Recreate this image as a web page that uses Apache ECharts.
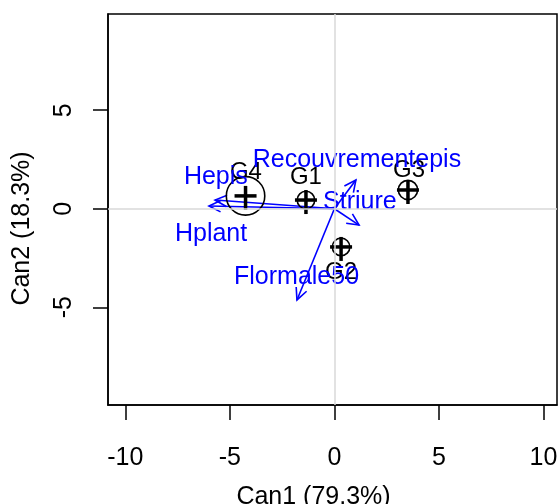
<!DOCTYPE html>
<html><head><meta charset="utf-8">
<script src="https://cdn.jsdelivr.net/npm/echarts@6/dist/echarts.min.js"></script>
<style>html,body{margin:0;padding:0;background:#fff}#c{width:559px;height:504px}</style>
</head><body><div id="c"></div>
<script>
// Group centroids (canonical scores)
const groupNames = ['G1', 'G2', 'G3', 'G4'];
const groupX = [-1.36, 0.32, 3.52, -4.25];
const groupY = [0.44, -1.94, 0.95, 0.65];
const groupRadius = [0.42, 0.42, 0.46, 0.92];
const groupLabelX = [-1.36, 0.32, 3.57, -4.23];
const groupLabelY = [1.58, -3.21, 1.96, 1.86];

// Structure vectors
const varNames = ['Recouvrementepis', 'Striure', 'Flormale50', 'Hepis', 'Hplant'];
const varX = [1.03, 1.18, -1.79, -5.71, -6.0];
const varY = [1.46, -0.83, -4.63, 0.44, 0.14];
const varLabelX = [1.08, 1.22, -1.81, -5.67, -5.9];
const varLabelY = [2.47, 0.34, -3.47, 1.61, -1.28];

const xTicks = [-10, -5, 0, 5, 10];
const yTicks = [-5, 0, 5];
const xName = 'Can1 (79.3%)';
const yName = 'Can2 (18.3%)';

const FONT = '"Liberation Sans", Arial, Helvetica, sans-serif';
const BLUE = '#0000ff';

const chart = echarts.init(document.getElementById('c'), null, {renderer: 'canvas'});

function arrowItem(params, api) {
  const p0 = api.coord([0, 0]);
  const p1 = api.coord([api.value(0), api.value(1)]);
  const a = Math.atan2(p1[1] - p0[1], p1[0] - p0[0]);
  const L = 13, w = Math.PI / 7;
  const h1 = [p1[0] - L * Math.cos(a - w), p1[1] - L * Math.sin(a - w)];
  const h2 = [p1[0] - L * Math.cos(a + w), p1[1] - L * Math.sin(a + w)];
  return {
    type: 'group',
    children: [
      {type: 'line', shape: {x1: p0[0], y1: p0[1], x2: p1[0], y2: p1[1]}, style: {stroke: BLUE, lineWidth: 1.6}},
      {type: 'polyline', shape: {points: [h1, p1, h2]}, style: {stroke: BLUE, lineWidth: 1.6, fill: null}}
    ]
  };
}

function groupItem(params, api) {
  const c = api.coord([api.value(0), api.value(1)]);
  const r = api.size([api.value(2), 0])[0];
  const arm = 11;
  return {
    type: 'group',
    children: [
      {type: 'circle', shape: {cx: c[0], cy: c[1], r: r}, style: {stroke: '#000', lineWidth: 1.6, fill: null}},
      {type: 'line', shape: {x1: c[0] - arm, y1: c[1], x2: c[0] + arm, y2: c[1]}, style: {stroke: '#000', lineWidth: 3.5}},
      {type: 'line', shape: {x1: c[0], y1: c[1] - arm + 1, x2: c[0], y2: c[1] + arm + 3}, style: {stroke: '#000', lineWidth: 3.5}}
    ]
  };
}

function textItemFactory(color, size) {
  return function (params, api) {
    const c = api.coord([api.value(0), api.value(1)]);
    return {
      type: 'text',
      x: c[0], y: c[1],
      style: {text: api.value(2), fill: color, font: size + 'px ' + FONT, align: 'center', verticalAlign: 'middle'}
    };
  };
}

const option = {
  animation: false,
  backgroundColor: '#fff',
  grid: {left: 108, right: 2, top: 14, bottom: 99, show: true, borderColor: '#000', borderWidth: 1.5,
         containLabel: false, outerBoundsMode: 'none'},
  xAxis: {
    type: 'value', min: -10.83, max: 10.65,
    name: xName, nameLocation: 'middle', nameGap: 80,
    nameTextStyle: {fontSize: 25, color: '#000', fontFamily: FONT, padding: [0, 38, 0, 0]},
    axisLine: {show: true, onZero: false, lineStyle: {color: '#000', width: 1.5}},
    axisTick: {show: true, length: 15, customValues: xTicks, lineStyle: {color: '#000', width: 1.5}},
    axisLabel: {show: true, customValues: xTicks, fontSize: 25, color: '#000', fontFamily: FONT, margin: 41},
    splitLine: {show: false}
  },
  yAxis: {
    type: 'value', min: -9.96, max: 9.88,
    name: yName, nameLocation: 'middle', nameGap: 73, nameRotate: 90,
    nameTextStyle: {fontSize: 25, color: '#000', fontFamily: FONT, padding: [0, 38, 0, 0]},
    axisLine: {show: true, onZero: false, lineStyle: {color: '#000', width: 1.5}},
    axisTick: {show: true, length: 15, customValues: yTicks, lineStyle: {color: '#000', width: 1.5}},
    axisLabel: {show: true, customValues: yTicks, fontSize: 25, color: '#000', fontFamily: FONT, margin: 31, rotate: 90},
    splitLine: {show: false}
  },
  series: [
    {
      type: 'line', data: [], silent: true,
      markLine: {
        silent: true, symbol: ['none', 'none'], label: {show: false},
        lineStyle: {color: '#d9d9d9', width: 1.5, type: 'solid'},
        data: [{xAxis: 0}, {yAxis: 0}]
      }
    },
    {
      type: 'custom', silent: true, renderItem: arrowItem,
      data: varX.map((x, i) => [x, varY[i]])
    },
    {
      type: 'custom', silent: true, renderItem: groupItem,
      data: groupX.map((x, i) => [x, groupY[i], groupRadius[i]])
    },
    {
      type: 'custom', silent: true, renderItem: textItemFactory('#000', 24),
      data: groupNames.map((n, i) => [groupLabelX[i], groupLabelY[i], n])
    },
    {
      type: 'custom', silent: true, renderItem: textItemFactory(BLUE, 25),
      data: varNames.map((n, i) => [varLabelX[i], varLabelY[i], n])
    }
  ]
};
chart.setOption(option);
</script>
</body></html>
